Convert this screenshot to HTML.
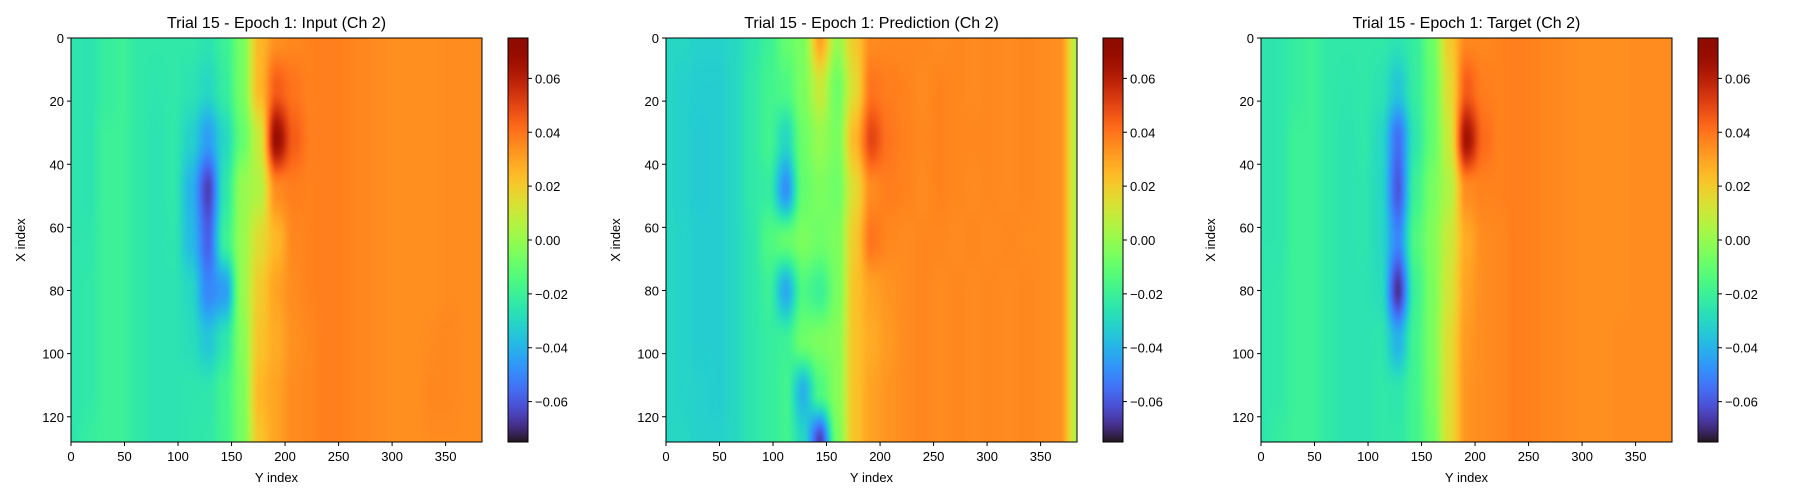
<!DOCTYPE html>
<html><head><meta charset="utf-8">
<style>
body{margin:0;background:#fff;width:1800px;height:500px;overflow:hidden;font-family:"Liberation Sans","DejaVu Sans",sans-serif;}
#root{position:relative;width:1800px;height:500px;}
canvas{position:absolute;}
svg{position:absolute;left:0;top:0;}
</style></head>
<body>
<div id="root">
<svg id="ov" width="1800" height="500"></svg>
</div>
<script>
// ---- data ----
const xSamples=[0,16,32,48,64,80,96,112,128];
const ySamples=[0,16,32,48,64,80,96,112,128,144,160,176,192,208,224,240,256,272,288,304,320,336,352,368,384];
const inputGrid=[
[-25,-26,-22,-20,-24,-24,-24,-24,-26,-20,-6,25,34,36,37,38,37,36,35,34,34,34,35,35,35],
[-25,-26,-22,-20,-24,-25,-24,-26,-30,-22,-6,25,45,40,37,38,37,36,35,34,34,34,35,35,35],
[-25,-26,-20,-20,-24,-26,-24,-32,-45,-30,-10,10,68,45,38,38,37,36,35,34,34,34,35,35,35],
[-25,-26,-20,-20,-24,-26,-24,-40,-65,-25,0,5,35,38,37,38,37,36,35,34,34,34,35,35,35],
[-25,-25,-20,-20,-24,-26,-25,-38,-58,-20,0,15,25,36,37,38,37,36,35,34,34,34,35,35,35],
[-25,-24,-20,-20,-24,-26,-26,-30,-50,-45,0,20,30,35,37,38,37,36,35,34,34,34,35,35,35],
[-25,-24,-20,-20,-24,-26,-26,-28,-35,-25,-3,22,28,34,36,38,37,36,35,34,34,35,36,35,35],
[-25,-24,-20,-20,-24,-26,-26,-25,-25,-18,-5,25,30,35,36,38,37,36,35,34,34,36,36,35,35],
[-25,-22,-20,-20,-24,-26,-26,-25,-24,-18,-6,22,30,35,36,38,37,36,35,34,34,35,35,35,35]];
const predGrid=[
[-30,-30,-32,-32,-30,-25,-20,-10,-5,30,0,20,35,36,36,36,35,36,35,36,35,36,35,34,5],
[-30,-32,-33,-33,-30,-24,-18,-15,-5,10,-8,15,40,38,37,35,37,36,35,36,35,36,35,34,5],
[-30,-32,-34,-33,-30,-24,-18,-30,-8,0,-6,25,50,40,37,36,37,36,36,36,35,36,35,34,5],
[-30,-32,-34,-33,-30,-24,-22,-48,-10,-5,-8,15,35,38,37,35,37,36,35,36,35,36,35,34,5],
[-30,-31,-33,-33,-30,-25,-15,-10,-5,-8,-5,20,40,36,35,36,36,35,36,35,36,35,35,34,5],
[-30,-31,-33,-33,-30,-25,-20,-42,-15,-20,-6,22,30,33,35,36,35,36,35,36,35,36,35,34,5],
[-30,-31,-33,-33,-30,-25,-22,-20,-8,-5,-3,22,28,32,35,36,35,36,35,36,35,36,35,34,5],
[-30,-31,-32,-33,-30,-25,-22,-18,-40,-15,-3,22,30,33,35,36,35,36,35,36,35,36,35,34,5],
[-30,-30,-32,-32,-30,-25,-22,-18,-30,-65,-6,22,30,33,35,36,35,36,35,36,35,36,35,34,5]];
const targetGrid=[
[-25,-25,-22,-20,-24,-24,-24,-24,-26,-22,-8,20,36,36,37,38,37,36,35,34,34,34,35,35,35],
[-25,-25,-22,-20,-24,-25,-24,-26,-35,-22,-10,15,45,38,37,38,37,36,35,34,34,34,35,35,35],
[-25,-25,-20,-20,-24,-26,-24,-30,-55,-25,-10,10,65,42,37,38,37,36,35,34,34,34,35,35,35],
[-25,-25,-20,-20,-24,-26,-25,-30,-60,-20,-6,5,35,37,37,38,37,36,35,34,34,34,35,35,35],
[-25,-25,-20,-20,-24,-26,-25,-30,-50,-15,-4,10,28,35,36,38,37,36,35,34,34,34,35,35,35],
[-25,-24,-20,-20,-24,-26,-26,-28,-68,-20,-5,12,30,35,36,38,37,36,35,34,34,34,35,35,35],
[-25,-24,-20,-20,-24,-26,-26,-25,-40,-18,-5,15,32,35,36,38,37,36,35,34,34,35,35,35,35],
[-25,-24,-20,-20,-24,-26,-26,-24,-25,-18,-6,15,33,35,36,38,37,36,35,34,34,35,35,35,35],
[-25,-22,-20,-20,-24,-26,-26,-24,-24,-18,-8,15,33,35,36,38,37,36,35,34,34,35,35,35,35]];
const panelTitles=["Trial 15 - Epoch 1: Input (Ch 2)","Trial 15 - Epoch 1: Prediction (Ch 2)","Trial 15 - Epoch 1: Target (Ch 2)"];
const xTicks=[0,50,100,150,200,250,300,350];
const yTicks=[0,20,40,60,80,100,120];
const cbTicks=[-0.06,-0.04,-0.02,0.00,0.02,0.04,0.06];
const cbLabels=["\u22120.06","\u22120.04","\u22120.02","0.00","0.02","0.04","0.06"];
const vmin=-0.075, vmax=0.075;

// ---- layout ----
const panelLeft=[71,666,1261], AX_W=411, AX_T=38, AX_H=404, CB_OFF=437, CB_W=20;
function turbo(t){t=Math.max(0,Math.min(1,t));
 const r=0.13572138+t*(4.61539260+t*(-42.66032258+t*(132.13108234+t*(-152.94239396+t*59.28637943))));
 const g=0.09140261+t*(2.19418839+t*(4.84296658+t*(-14.18503333+t*(4.27729857+t*2.82956604))));
 const b=0.10667330+t*(12.64194608+t*(-60.58204836+t*(110.36276771+t*(-89.90310912+t*27.34824973))));
 const c=v=>Math.max(0,Math.min(255,Math.round(v*255)));return [c(r),c(g),c(b)];}
function sampleAt(grid,xv,yv){
 let i=0;while(i<xSamples.length-2&&xv>xSamples[i+1])i++;
 let j=0;while(j<ySamples.length-2&&yv>ySamples[j+1])j++;
 let fx=(xv-xSamples[i])/(xSamples[i+1]-xSamples[i]);let fy=(yv-ySamples[j])/(ySamples[j+1]-ySamples[j]);
 fx=fx*fx*(3-2*fx);fy=fy*fy*(3-2*fy);
 const a=grid[i][j],b=grid[i][j+1],c=grid[i+1][j],d=grid[i+1][j+1];
 return ((a*(1-fy)+b*fy)*(1-fx)+(c*(1-fy)+d*fy)*fx)/1000;}
const root=document.getElementById('root');const ov=document.getElementById('ov');
const NS="http://www.w3.org/2000/svg";
function sv(tag,attrs,parent){const e=document.createElementNS(NS,tag);for(const k in attrs)e.setAttribute(k,attrs[k]);(parent||ov).appendChild(e);return e;}
const grids=[inputGrid,predGrid,targetGrid];
const pnames=['input','prediction','target'];
grids.forEach((grid,p)=>{
 const L=panelLeft[p];
 const cv=document.createElement('canvas');cv.width=AX_W;cv.height=AX_H;cv.style.left=L+'px';cv.style.top=AX_T+'px';
 
 
 root.insertBefore(cv,ov);
 const ctx=cv.getContext('2d');const im=ctx.createImageData(AX_W,AX_H);
 for(let py=0;py<AX_H;py++){const xv=(py+0.5)/AX_H*128;
  for(let px=0;px<AX_W;px++){const yv=(px+0.5)/AX_W*384;
   const v=sampleAt(grid,xv,yv);const col=turbo((v-vmin)/(vmax-vmin));const k=(py*AX_W+px)*4;
   im.data[k]=col[0];im.data[k+1]=col[1];im.data[k+2]=col[2];im.data[k+3]=255;}}
 ctx.putImageData(im,0,0);
 const cb=document.createElement('canvas');cb.width=CB_W;cb.height=AX_H;cb.style.left=(L+CB_OFF)+'px';cb.style.top=AX_T+'px';
 
 
 root.insertBefore(cb,ov);
 const c2=cb.getContext('2d');for(let y=0;y<AX_H;y++){const col=turbo(1-(y+0.5)/AX_H);c2.fillStyle=`rgb(${col[0]},${col[1]},${col[2]})`;c2.fillRect(0,y,CB_W,1);}
 const g=sv('g',{});
 
 
 sv('rect',{x:L,y:AX_T,width:AX_W,height:AX_H,fill:'none',stroke:'#000','stroke-width':1},g);
 sv('rect',{x:L+CB_OFF,y:AX_T,width:CB_W,height:AX_H,fill:'none',stroke:'#000','stroke-width':1},g);
 const t=sv('text',{x:L+AX_W/2,y:28,'text-anchor':'middle','font-size':'16px',fill:'#000'},g);t.textContent=panelTitles[p];
 
 
 xTicks.forEach(v=>{const x=L+v/384*AX_W;sv('line',{x1:x,y1:AX_T+AX_H,x2:x,y2:AX_T+AX_H+4,stroke:'#000'},g);
  const tx=sv('text',{x:x,y:AX_T+AX_H+19,'text-anchor':'middle','font-size':'13px'},g);tx.textContent=v;
  
  });
 yTicks.forEach(v=>{const y=AX_T+v/128*AX_H;sv('line',{x1:L-4,y1:y,x2:L,y2:y,stroke:'#000'},g);
  const ty=sv('text',{x:L-7,y:y+5,'text-anchor':'end','font-size':'13px'},g);ty.textContent=v;
  
  });
 cbTicks.forEach((v,i)=>{const y=AX_T+AX_H-(v-vmin)/(vmax-vmin)*AX_H;const cx=L+CB_OFF+CB_W;
  sv('line',{x1:cx,y1:y,x2:cx+4,y2:y,stroke:'#000'},g);
  const tc=sv('text',{x:cx+7,y:y+5,'font-size':'13px'},g);tc.textContent=cbLabels[i];
  
  });
 const xl=sv('text',{x:L+AX_W/2,y:482,'text-anchor':'middle','font-size':'13px'},g);xl.textContent='Y index';
 
 
 const yl=sv('text',{x:0,y:0,'text-anchor':'middle','font-size':'13px',transform:`translate(${L-46},${AX_T+AX_H/2}) rotate(-90)`},g);yl.textContent='X index';
 
 
});
</script>
</body></html>
